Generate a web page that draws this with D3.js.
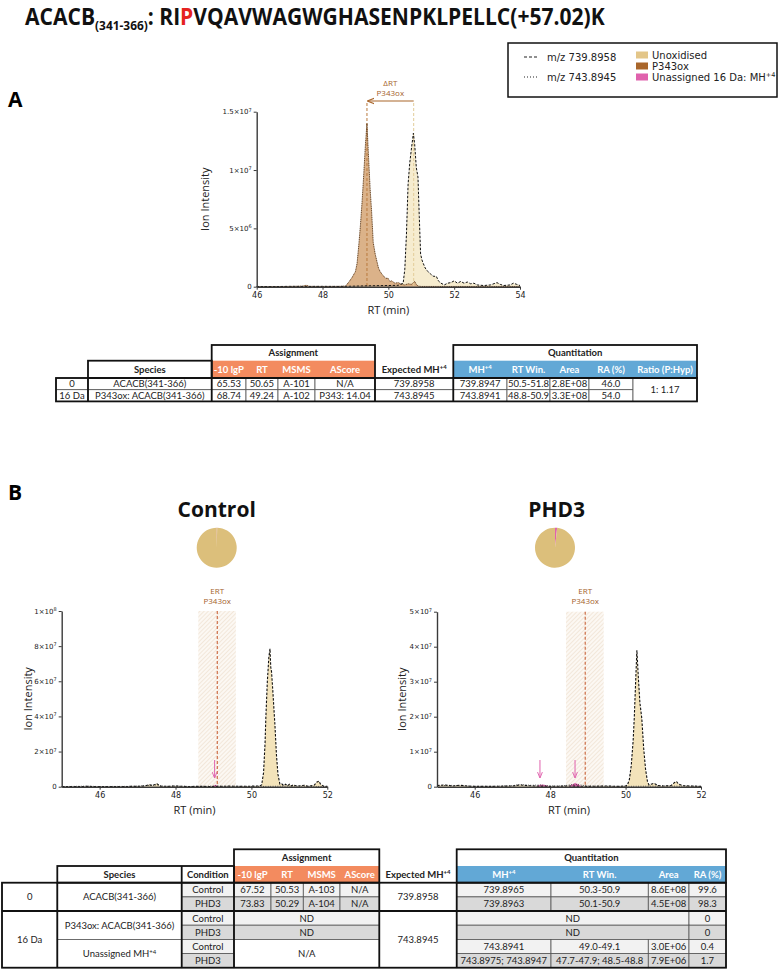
<!DOCTYPE html>
<html><head><meta charset="utf-8">
<script src="https://cdn.jsdelivr.net/npm/d3@7"></script>
<style>body{margin:0;background:#fff}svg{display:block}</style>
</head><body>
<svg id="c" width="780" height="970"></svg>
<script>
// ---------------- DATA ----------------
const titleSegments = [
  {text:"ACACB", kind:"main"},
  {text:"(341-366)", kind:"sub"},
  {text:": RI", kind:"main"},
  {text:"P", kind:"red"},
  {text:"VQAVWAGWGHASENPKLPELLC(+57.02)K", kind:"main"}
];
const legendLines = [{label:"m/z 739.8958", style:"dashed"},{label:"m/z 743.8945", style:"dotted"}];
const legendSwatches = [{label:"Unoxidised", key:"unox"},{label:"P343ox", key:"ox"},{label:"Unassigned 16 Da: MH^+4", key:"pink"}];

const UNIT = 1e6; // intensities below are in units of 1e6
// Panel A: [RT (min), intensity]
const panelA_unox = [[46.0,0.02],[46.5,0.01],[47.0,0.03],[47.5,0.02],[48.0,0.03],[48.5,0.02],[49.0,0.05],[49.5,0.08],[50.0,0.1],[50.3,0.12],[50.45,0.3],[50.5,1.5],[50.55,4.5],[50.6,8.8],[50.65,10.6],[50.7,11.8],[50.76,13.15],[50.8,12.2],[50.85,10.2],[50.9,9.4],[50.94,6.0],[50.98,2.8],[51.02,2.3],[51.06,2.0],[51.12,1.6],[51.2,1.3],[51.28,1.1],[51.36,0.9],[51.46,0.88],[51.52,0.5],[51.6,0.3],[51.7,0.15],[51.8,0.3],[51.9,0.35],[52.0,0.5],[52.1,0.3],[52.2,0.45],[52.3,0.3],[52.4,0.4],[52.5,0.25],[52.6,0.3],[52.7,0.15],[52.9,0.1],[53.1,0.15],[53.3,0.35],[53.4,0.2],[53.5,0.1],[53.7,0.15],[53.8,0.3],[53.9,0.2],[54.0,0.1]];
const panelA_ox = [[46.0,0.0],[47.0,0.02],[47.4,0.05],[47.5,0.12],[47.6,0.03],[48.0,0.02],[48.5,0.03],[48.7,0.05],[48.8,0.4],[48.9,0.8],[49.0,1.3],[49.05,2.0],[49.1,3.5],[49.15,5.2],[49.2,7.2],[49.25,9.5],[49.3,12.0],[49.35,14.0],[49.4,11.0],[49.45,8.2],[49.49,6.5],[49.54,3.8],[49.6,2.8],[49.65,2.2],[49.7,1.6],[49.75,1.3],[49.8,1.1],[49.86,0.9],[49.92,0.7],[49.98,0.75],[50.05,0.45],[50.1,0.5],[50.2,0.3],[50.3,0.35],[50.4,0.2],[50.5,0.15],[50.6,0.25],[50.7,0.2],[50.8,0.45],[50.85,0.2],[50.9,0.05],[51.0,0.02],[52.0,0.02],[53.0,0.02],[54.0,0.02]];
const panelA_rt = {ox:49.35, unox:50.77};

// Panel B Control
const ctrl_unox = [[45.0,0.05],[45.5,0.1],[45.7,0.2],[46.0,0.05],[46.5,0.1],[47.0,0.2],[47.2,0.4],[47.3,1.2],[47.4,0.6],[47.5,1.8],[47.6,0.3],[47.8,0.2],[48.0,0.4],[48.3,0.1],[48.6,0.2],[49.0,0.1],[49.4,0.3],[49.7,0.2],[50.0,0.3],[50.2,0.4],[50.27,1.0],[50.32,8],[50.36,25],[50.38,39],[50.42,60],[50.46,74],[50.49,78.5],[50.51,68],[50.53,65.5],[50.56,56],[50.6,42],[50.62,35],[50.66,18],[50.7,7],[50.75,1.5],[50.8,1.6],[50.85,0.6],[50.9,1.4],[50.95,0.5],[51.0,1.4],[51.05,0.4],[51.1,1.0],[51.2,0.3],[51.4,0.8],[51.5,0.2],[51.65,0.8],[51.72,2.5],[51.78,3.2],[51.82,1.5],[51.9,0.3],[52.0,0.2]];
const ctrl_ox = [[45.0,0.05],[45.6,0.3],[46.0,0.1],[46.8,0.2],[47.0,0.3],[47.45,1.0],[47.7,0.2],[48.0,0.3],[48.5,0.1],[48.9,0.3],[49.05,0.6],[49.2,0.2],[49.5,0.3],[50.0,0.1],[50.5,0.2],[51.0,0.4],[51.5,0.2],[52.0,0.1]];
const ctrl_pink = [[48.98,0],[49.02,0.6],[49.06,0.8],[49.1,0.3],[49.12,0]];
const ctrl_arrows = [49.03];
const ctrl_ert = {start:48.6, end:49.59, center:49.1};
const ctrl_pie = [{key:"pink", value:0.4},{key:"ox", value:0},{key:"unox", value:99.6}];

// Panel B PHD3
const phd3_unox = [[45.0,0.3],[45.2,0.5],[45.4,0.2],[45.6,0.4],[45.8,0.2],[46.0,0.1],[46.5,0.1],[47.0,0.2],[47.2,0.5],[47.4,0.3],[47.6,0.2],[48.0,0.1],[48.5,0.2],[49.0,0.1],[49.5,0.2],[49.8,0.1],[50.0,0.2],[50.05,0.5],[50.1,2],[50.15,6],[50.2,13],[50.23,19.5],[50.26,28],[50.3,39],[50.34,31],[50.38,24],[50.43,19.5],[50.48,11],[50.53,5],[50.58,1.5],[50.62,0.5],[50.7,0.8],[50.75,1.0],[50.8,0.7],[50.85,0.3],[51.0,0.2],[51.2,0.3],[51.3,1.2],[51.35,1.5],[51.4,0.8],[51.5,0.3],[51.7,0.2],[52.0,0.1]];
const phd3_ox = [[45.0,0.2],[45.3,0.4],[45.6,0.3],[46.0,0.1],[46.5,0.1],[47.0,0.3],[47.2,0.6],[47.5,0.4],[47.73,0.5],[48.0,0.2],[48.3,0.2],[48.66,0.7],[49.0,0.2],[49.5,0.1],[50.0,0.1],[51.0,0.2],[52.0,0.1]];
const phd3_pink1 = [[47.65,0],[47.72,0.4],[47.8,0.5],[47.9,0.3],[47.95,0]];
const phd3_pink2 = [[48.5,0],[48.58,0.5],[48.66,0.9],[48.75,0.6],[48.82,0]];
const phd3_arrows = [47.73, 48.66];
const phd3_ert = {start:48.42, end:49.42, center:48.93};
const phd3_pie = [{key:"pink", value:1.7},{key:"ox", value:0},{key:"unox", value:98.3}];

const xTicksA = [46,48,50,52,54];
const yTicksA = [0,5e6,1e7,1.5e7];
const xTicksB = [46,48,50,52];
const yTicksCtrl = [0,2e7,4e7,6e7,8e7,1e8];
const yTicksPHD3 = [0,1e7,2e7,3e7,4e7,5e7];

// Tables
const assignHeaders = ["-10 lgP","RT","MSMS","AScore"];
const quantHeadersA = ["MH^+4","RT Win.","Area","RA (%)","Ratio (P:Hyp)"];
const quantHeadersB = ["MH^+4","RT Win.","Area","RA (%)"];
const tableA_groups = ["0","16 Da"];
const tableA_species = ["ACACB(341-366)","P343ox: ACACB(341-366)"];
const tableA_assign = [["65.53","50.65","A-101","N/A"],["68.74","49.24","A-102","P343: 14.04"]];
const tableA_expected = ["739.8958","743.8945"];
const tableA_quant = [["739.8947","50.5-51.8","2.8E+08","46.0"],["743.8941","48.8-50.9","3.3E+08","54.0"]];
const tableA_ratio = "1: 1.17";

const tableB_groups = ["0","16 Da"];
const tableB_species = ["ACACB(341-366)","P343ox: ACACB(341-366)","Unassigned MH^+4"];
const tableB_conditions = ["Control","PHD3","Control","PHD3","Control","PHD3"];
const tableB_assign = [["67.52","50.53","A-103","N/A"],["73.83","50.29","A-104","N/A"],["ND"],["ND"],["N/A"],[]];
const tableB_expected = ["739.8958","743.8945"];
const tableB_quant = [["739.8965","50.3-50.9","8.6E+08","99.6"],["739.8963","50.1-50.9","4.5E+08","98.3"],["ND","0"],["ND","0"],["743.8941","49.0-49.1","3.0E+06","0.4"],["743.8975; 743.8947","47.7-47.9; 48.5-48.8","7.9E+06","1.7"]];

// ---------------- DRAWING ----------------
const svg = d3.select("#c");
const F_UI = "'Open Sans','DejaVu Sans',sans-serif";
const F_TICK = "'DejaVu Sans',sans-serif";
const F_TAB = "Lato,'Open Sans',sans-serif";
const COL = {unox:"#e3c689", unoxFillA:"#f6eccf", unoxFillB:"#f3e3ba", ox:"#a9662b", oxFill:"#d7aa7c", oxLine:"#5b3816",
  pink:"#e062ad", pie:"#dcbf7b", ert:"#c9633a", ertText:"#a4622b", orange:"#f38b5f", blue:"#62a8d6"};

const defs = svg.append("defs");
const pat = defs.append("pattern").attr("id","hatch").attr("patternUnits","userSpaceOnUse")
  .attr("width",3).attr("height",3).attr("patternTransform","rotate(45)");
pat.append("rect").attr("width",3).attr("height",3).attr("fill","#fcf8f3");
pat.append("line").attr("x1",0).attr("y1",0).attr("x2",0).attr("y2",3).attr("stroke","#ecdcc9").attr("stroke-width",1.2);
function marker(id, color){
  defs.append("marker").attr("id",id).attr("viewBox","0 0 10 10").attr("refX",9).attr("refY",5)
    .attr("markerWidth",6).attr("markerHeight",6).attr("orient","auto-start-reverse")
    .append("path").attr("d","M0,1 L10,5 L0,9").attr("fill","none").attr("stroke",color).attr("stroke-width",1.6);
}
marker("arrBrown", COL.ox); marker("arrPink", COL.pink);

function supText(sel, str, supSize, supDy){
  const parts = String(str).split("^");
  sel.text(null);
  sel.append("tspan").text(parts[0]);
  if(parts[1]) sel.append("tspan").attr("font-size",supSize).attr("dy",supDy).text(parts[1]);
}

// Title
const title = svg.append("text").attr("font-family",F_UI).attr("font-weight",700).attr("font-size",23).attr("fill","#111");
let prevSub = false;
titleSegments.forEach(s=>{
  const t = title.append("tspan").text(s.text);
  if(s.kind==="sub"){ t.attr("font-size",13).attr("dy",5); prevSub = true; }
  else if(prevSub){ t.attr("dy",-5); prevSub = false; }
  if(s.kind==="red") t.attr("fill","#e5231f");
});
const tw = title.node().getComputedTextLength();
title.attr("transform",`translate(25,25) scale(${580/tw},1)`);

// Legend
const lg = svg.append("g");
lg.append("rect").attr("x",508).attr("y",43).attr("width",269).attr("height",54).attr("fill","#fff").attr("stroke","#111").attr("stroke-width",1.5);
legendLines.forEach((d,i)=>{
  const y = [57,77][i];
  lg.append("line").attr("x1",524).attr("x2",538).attr("y1",y).attr("y2",y).attr("stroke","#222").attr("stroke-width",1.2)
    .attr("stroke-dasharray", d.style==="dashed" ? "3,2" : "1,2");
  lg.append("text").attr("x",547).attr("y",y+3.5).attr("font-family",F_TICK).attr("font-size",10).attr("fill","#222").text(d.label);
});
legendSwatches.forEach((d,i)=>{
  const y = [55,66,77][i];
  lg.append("rect").attr("x",636).attr("y",y-3.5).attr("width",12).attr("height",7).attr("fill",COL[d.key]);
  const t = lg.append("text").attr("x",652).attr("y",y+3.5).attr("font-family",F_TICK).attr("font-size",10).attr("fill","#222");
  supText(t, d.label, 6.5, "-0.55em");
});

// Panel labels
svg.append("text").attr("x",8).attr("y",107).attr("font-family",F_UI).attr("font-weight",700).attr("font-size",21).text("A");
svg.append("text").attr("x",8).attr("y",500).attr("font-family",F_UI).attr("font-weight",700).attr("font-size",21).text("B");

function drawAxes(g, x, y, xt, yt){
  const gx = g.append("g").attr("transform",`translate(0,${y(0)})`)
    .call(d3.axisBottom(x).tickValues(xt).tickSize(3).tickSizeOuter(0).tickPadding(3).tickFormat(d=>d));
  const gy = g.append("g").attr("transform",`translate(${x.range()[0]},0)`)
    .call(d3.axisLeft(y).tickValues(yt).tickSize(3).tickSizeOuter(0).tickPadding(2));
  [gx,gy].forEach(a=>{
    a.select(".domain").attr("stroke","#3a3a3a").attr("stroke-width",1.4);
    a.selectAll(".tick line").attr("stroke","#3a3a3a");
    a.selectAll("text").attr("font-family",F_TICK).attr("fill","#222");
  });
  gx.selectAll("text").attr("font-size",8);
  gy.selectAll(".tick text").attr("font-size",7).each(function(d){
    const s = d3.select(this); s.text(null);
    if(d===0){ s.text("0"); return; }
    const e = Math.floor(Math.log10(d)+1e-9);
    const m = +(d/Math.pow(10,e)).toFixed(2);
    s.append("tspan").text(m+"×10");
    s.append("tspan").attr("font-size",5).attr("dy","-0.55em").text(e);
  });
}
function axisTitles(g, x, y, ylx){
  const cy = (y.range()[0]+y.range()[1])/2;
  g.append("text").attr("transform",`translate(${ylx},${cy}) rotate(-90)`).attr("text-anchor","middle").attr("dy","0.35em")
    .attr("font-family",F_UI).attr("font-size",11).attr("fill","#222").text("Ion Intensity");
  g.append("text").attr("x",(x.range()[0]+x.range()[1])/2).attr("y",y(0)+27).attr("text-anchor","middle")
    .attr("font-family",F_UI).attr("font-size",11).attr("fill","#222").text("RT (min)");
}
function trace(g, x, y, data, o){
  const pts = data.map(d=>[d[0], d[1]*UNIT]);
  if(o.fill) g.append("path").datum(pts).attr("fill",o.fill).attr("fill-opacity",o.fo||1)
    .attr("d", d3.area().x(d=>x(d[0])).y0(y(0)).y1(d=>y(d[1])));
  if(o.stroke) g.append("path").datum(pts).attr("fill","none").attr("stroke",o.stroke).attr("stroke-width",o.sw||1)
    .attr("stroke-dasharray",o.dash||null).attr("d", d3.line().x(d=>x(d[0])).y(d=>y(d[1])));
}

// ---- Panel A ----
const gA = svg.append("g");
const xA = d3.scaleLinear().domain([46,54]).range([256.7,520]);
const yA = d3.scaleLinear().domain([0,1.5e7]).range([286.7,111.7]);
trace(gA, xA, yA, panelA_unox, {fill:COL.unoxFillA});
trace(gA, xA, yA, panelA_ox, {fill:COL.oxFill, fo:0.9});
gA.append("line").attr("x1",xA(panelA_rt.ox)).attr("x2",xA(panelA_rt.ox)).attr("y1",103).attr("y2",yA(0))
  .attr("stroke","#b9793f").attr("stroke-width",1).attr("stroke-dasharray","3,2");
gA.append("line").attr("x1",xA(panelA_rt.unox)).attr("x2",xA(panelA_rt.unox)).attr("y1",103).attr("y2",yA(0))
  .attr("stroke","#e2cc98").attr("stroke-width",1).attr("stroke-dasharray","3,2");
trace(gA, xA, yA, panelA_ox, {stroke:COL.oxLine, sw:0.9, dash:"1.2,0.6"});
trace(gA, xA, yA, panelA_unox, {stroke:"#111", sw:1, dash:"2.5,1.5"});
gA.append("line").attr("x1",xA(panelA_rt.unox)).attr("x2",xA(panelA_rt.ox)+1).attr("y1",101).attr("y2",101)
  .attr("stroke",COL.ox).attr("stroke-width",1.2).attr("marker-end","url(#arrBrown)");
const midA = (xA(panelA_rt.unox)+xA(panelA_rt.ox))/2;
gA.append("text").attr("x",midA).attr("y",86).attr("text-anchor","middle").attr("font-family",F_UI).attr("font-size",8).attr("fill",COL.ertText).text("ΔRT");
gA.append("text").attr("x",midA).attr("y",96).attr("text-anchor","middle").attr("font-family",F_UI).attr("font-size",8).attr("fill",COL.ertText).text("P343ox");
drawAxes(gA, xA, yA, xTicksA, yTicksA);
axisTitles(gA, xA, yA, 205);

// ---- Panel B ----
function panelB(cfg){
  const g = svg.append("g");
  const {x,y} = cfg;
  g.append("text").attr("x",cfg.titleX).attr("y",517).attr("text-anchor","middle").attr("font-family",F_UI)
    .attr("font-weight",700).attr("font-size",21).attr("fill","#111").text(cfg.title);
  const pie = d3.pie().sort(null).value(d=>d.value);
  const arc = d3.arc().innerRadius(0).outerRadius(20);
  g.append("g").attr("transform",`translate(${cfg.pieX},547.7)`).selectAll("path").data(pie(cfg.pie)).join("path")
    .attr("d",arc).attr("fill",d=>d.data.key==="unox"?COL.pie:(d.data.key==="ox"?COL.ox:COL.pink));
  g.append("rect").attr("x",x(cfg.ert.start)).attr("width",x(cfg.ert.end)-x(cfg.ert.start))
    .attr("y",y.range()[1]).attr("height",y(0)-y.range()[1]).attr("fill","url(#hatch)");
  g.append("line").attr("x1",x(cfg.ert.center)).attr("x2",x(cfg.ert.center)).attr("y1",y.range()[1]).attr("y2",y(0))
    .attr("stroke",COL.ert).attr("stroke-width",1.1).attr("stroke-dasharray","3,2");
  g.append("text").attr("x",x(cfg.ert.center)).attr("y",594).attr("text-anchor","middle").attr("font-family",F_UI).attr("font-size",8).attr("fill",COL.ertText).text("ERT");
  g.append("text").attr("x",x(cfg.ert.center)).attr("y",604).attr("text-anchor","middle").attr("font-family",F_UI).attr("font-size",8).attr("fill",COL.ertText).text("P343ox");
  trace(g, x, y, cfg.unox, {fill:COL.unoxFillB});
  cfg.pinks.forEach(p=>trace(g, x, y, p, {fill:COL.pink, stroke:COL.pink, sw:0.8}));
  trace(g, x, y, cfg.ox, {stroke:"#222", sw:0.9, dash:"0.8,1.6"});
  trace(g, x, y, cfg.unox, {stroke:"#111", sw:1.1, dash:"2.5,1.5"});
  cfg.arrows.forEach(a=>{
    g.append("line").attr("x1",x(a)).attr("x2",x(a)).attr("y1",760).attr("y2",777.5)
      .attr("stroke",COL.pink).attr("stroke-width",1).attr("marker-end","url(#arrPink)");
  });
  drawAxes(g, x, y, xTicksB, cfg.yt);
  axisTitles(g, x, y, cfg.ylx);
}
panelB({title:"Control", titleX:216.7, pieX:216.7, pie:ctrl_pie,
  x:d3.scaleLinear().domain([45,52]).range([61.7,327.3]), y:d3.scaleLinear().domain([0,1e8]).range([786.7,611]),
  ert:ctrl_ert, unox:ctrl_unox, ox:ctrl_ox, pinks:[ctrl_pink], arrows:ctrl_arrows, yt:yTicksCtrl, ylx:28});
panelB({title:"PHD3", titleX:556.7, pieX:555, pie:phd3_pie,
  x:d3.scaleLinear().domain([45,52]).range([437,701]), y:d3.scaleLinear().domain([0,5e7]).range([786.7,611.7]),
  ert:phd3_ert, unox:phd3_unox, ox:phd3_ox, pinks:[phd3_pink1, phd3_pink2], arrows:phd3_arrows, yt:yTicksPHD3, ylx:402});

// ---- Tables ----
function tcell(g, x0, x1, y0, y1, str, o={}){
  if(o.fill!==null) g.append("rect").attr("x",x0).attr("y",y0).attr("width",x1-x0).attr("height",y1-y0)
    .attr("fill",o.fill||"#fff").attr("stroke",o.noStroke?"none":"#555").attr("stroke-width",0.8);
  if(str!=null && str!==""){
    const t = g.append("text").attr("x",(x0+x1)/2).attr("y",(y0+y1)/2).attr("dy","0.36em").attr("text-anchor","middle")
      .attr("font-family",F_TAB).attr("font-size",o.fs||9.5).attr("font-weight",o.bold?700:400).attr("fill",o.color||"#222");
    supText(t, str, 6, "-0.55em");
  }
}
function thickRect(g,x0,y0,x1,y1){ g.append("rect").attr("x",x0).attr("y",y0).attr("width",x1-x0).attr("height",y1-y0).attr("fill","none").attr("stroke","#111").attr("stroke-width",1.8); }
function thickLine(g,x0,y0,x1,y1){ g.append("line").attr("x1",x0).attr("y1",y0).attr("x2",x1).attr("y2",y1).attr("stroke","#111").attr("stroke-width",1.8); }

// Table A
(function(){
  const g = svg.append("g");
  const X = [56,88,211.7,246,278,315,375,453.3,507,550,589,633,697];
  const Y = [345,360.7,378,389.7,401.4];
  tcell(g, X[2], X[6], Y[0], Y[1], "Assignment", {bold:true, noStroke:true});
  tcell(g, X[7], X[12], Y[0], Y[1], "Quantitation", {bold:true, noStroke:true});
  tcell(g, X[1], X[2], Y[1], Y[2], "Species", {bold:true, noStroke:true});
  g.append("rect").attr("x",X[2]).attr("y",Y[1]).attr("width",X[6]-X[2]).attr("height",Y[2]-Y[1]).attr("fill",COL.orange);
  assignHeaders.forEach((h,i)=>tcell(g, X[2+i], X[3+i], Y[1], Y[2], h, {fill:null, bold:true, color:"#fff"}));
  tcell(g, X[6], X[7], Y[1], Y[2], "Expected MH^+4", {fill:null, bold:true});
  g.append("rect").attr("x",X[7]).attr("y",Y[1]).attr("width",X[12]-X[7]).attr("height",Y[2]-Y[1]).attr("fill",COL.blue);
  quantHeadersA.forEach((h,i)=>tcell(g, X[7+i], X[8+i], Y[1], Y[2], h, {fill:null, bold:true, color:"#fff"}));
  tableA_groups.forEach((gr,r)=>{
    const y0=Y[2+r], y1=Y[3+r];
    tcell(g, X[0], X[1], y0, y1, gr);
    tcell(g, X[1], X[2], y0, y1, tableA_species[r]);
    tableA_assign[r].forEach((v,i)=>tcell(g, X[2+i], X[3+i], y0, y1, v));
    tcell(g, X[6], X[7], y0, y1, tableA_expected[r]);
    tableA_quant[r].forEach((v,i)=>tcell(g, X[7+i], X[8+i], y0, y1, v));
  });
  tcell(g, X[11], X[12], Y[2], Y[4], tableA_ratio);
  thickRect(g, X[2], Y[0], X[6], Y[2]);
  thickRect(g, X[7], Y[0], X[12], Y[2]);
  thickRect(g, X[1], Y[1], X[2], Y[2]);
  thickRect(g, X[0], Y[2], X[12], Y[4]);
  [X[1],X[2],X[6],X[7]].forEach(x=>thickLine(g, x, Y[2], x, Y[4]));
})();

// Table B
(function(){
  const g = svg.append("g");
  const X = [2,57.3,181.7,234,271,303.3,340,379.3,456.7,551,648.3,689,726];
  const Y = [849.3,866,882.7,896.9,911,925.2,939.4,953.5,967.7];
  const shade = r => r%2===0 ? "#f2f2f2" : "#d9d9d9";
  tcell(g, X[3], X[7], Y[0], Y[1], "Assignment", {bold:true, noStroke:true});
  tcell(g, X[8], X[12], Y[0], Y[1], "Quantitation", {bold:true, noStroke:true});
  tcell(g, X[1], X[2], Y[1], Y[2], "Species", {bold:true, noStroke:true});
  tcell(g, X[2], X[3], Y[1], Y[2], "Condition", {bold:true, noStroke:true});
  g.append("rect").attr("x",X[3]).attr("y",Y[1]).attr("width",X[7]-X[3]).attr("height",Y[2]-Y[1]).attr("fill",COL.orange);
  assignHeaders.forEach((h,i)=>tcell(g, X[3+i], X[4+i], Y[1], Y[2], h, {fill:null, bold:true, color:"#fff"}));
  tcell(g, X[7], X[8], Y[1], Y[2], "Expected MH^+4", {fill:null, bold:true});
  g.append("rect").attr("x",X[8]).attr("y",Y[1]).attr("width",X[12]-X[8]).attr("height",Y[2]-Y[1]).attr("fill",COL.blue);
  const qcols = [[8,9],[9,10],[10,11],[11,12]];
  quantHeadersB.forEach((h,i)=>tcell(g, X[qcols[i][0]], X[qcols[i][1]], Y[1], Y[2], h, {fill:null, bold:true, color:"#fff"}));
  tcell(g, X[0], X[1], Y[2], Y[4], tableB_groups[0]);
  tcell(g, X[0], X[1], Y[4], Y[8], tableB_groups[1]);
  tableB_species.forEach((s,i)=>tcell(g, X[1], X[2], Y[2+2*i], Y[4+2*i], s));
  tcell(g, X[7], X[8], Y[2], Y[4], tableB_expected[0]);
  tcell(g, X[7], X[8], Y[4], Y[8], tableB_expected[1]);
  tableB_conditions.forEach((c,r)=>{
    const y0=Y[2+r], y1=Y[3+r], f=shade(r);
    tcell(g, X[2], X[3], y0, y1, c, {fill:f});
    const a = tableB_assign[r];
    if(a.length===4) a.forEach((v,i)=>tcell(g, X[3+i], X[4+i], y0, y1, v, {fill:f}));
    else if(a.length===1 && a[0]==="ND") tcell(g, X[3], X[7], y0, y1, a[0], {fill:f});
    else if(a.length===1) tcell(g, X[3], X[7], y0, Y[4+r], a[0], {fill:"#fff"});
    const q = tableB_quant[r];
    if(q.length===4) q.forEach((v,i)=>tcell(g, X[8+i], X[9+i], y0, y1, v, {fill:f}));
    else { tcell(g, X[8], X[11], y0, y1, q[0], {fill:f}); tcell(g, X[11], X[12], y0, y1, q[1], {fill:f}); }
  });
  thickRect(g, X[3], Y[0], X[7], Y[2]);
  thickRect(g, X[8], Y[0], X[12], Y[2]);
  thickRect(g, X[1], Y[1], X[3], Y[2]);
  thickLine(g, X[2], Y[1], X[2], Y[2]);
  thickRect(g, X[0], Y[2], X[12], Y[8]);
  thickLine(g, X[0], Y[4], X[12], Y[4]);
  [X[1],X[2],X[3],X[7],X[8]].forEach(x=>thickLine(g, x, Y[2], x, Y[8]));
})();
</script>
</body></html>
